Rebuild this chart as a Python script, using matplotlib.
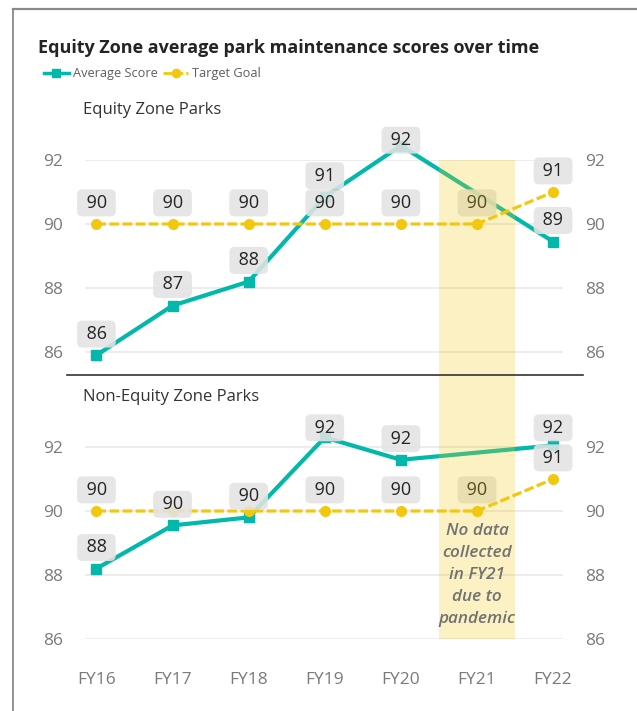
import matplotlib
matplotlib.use("Agg")
import matplotlib.pyplot as plt
from matplotlib.lines import Line2D
import numpy as np

plt.rcParams['font.family'] = ['Open Sans', 'DejaVu Sans']

# data
years = ['FY16', 'FY17', 'FY18', 'FY19', 'FY20', 'FY21', 'FY22']
equity_avg = [85.9, 87.45, 88.2, 90.85, 92.45, np.nan, 89.45]
equity_goal = [90, 90, 90, 90, 90, 90, 91]
non_equity_avg = [88.2, 89.55, 89.8, 92.3, 91.6, np.nan, 92.05]
non_equity_goal = [90, 90, 90, 90, 90, 90, 91]
panel_titles = ['Equity Zone Parks', 'Non-Equity Zone Parks']

TEAL = '#01B8AA'
YELLOW = '#F2C80F'
GRID = '#E9E9E9'
TICK = '#7A7A7A'

W, H = 637, 711
fig = plt.figure(figsize=(W / 100, H / 100), dpi=100)

def fx(px):
    return px / W

def fy(py):
    return 1 - py / H

# axes placement (pixel based)
ax_top = fig.add_axes([fx(85), fy(375), fx(563 - 85), (375 - 160) / H])
ax_bot = fig.add_axes([fx(85), fy(639), fx(563 - 85), (639 - 375) / H])

x = np.arange(len(years))


def draw_panel(ax, avg, goal, ylim, label_cap):
    ax.set_xlim(-0.15, 6.13)
    ax.set_ylim(*ylim)
    for s in ax.spines.values():
        s.set_visible(False)
    ax.set_yticks([86, 88, 90, 92])
    ax.grid(axis='y', color=GRID, linewidth=1.2)
    ax.set_axisbelow(True)
    ax.tick_params(axis='y', length=0, labelsize=12.5, labelcolor=TICK,
                   left=True, right=True, labelleft=True, labelright=True, pad=16)
    ax.tick_params(axis='x', length=0)

    avg = np.array(avg, dtype=float)
    ok = ~np.isnan(avg)
    # line across the gap
    ax.plot(x[ok], avg[ok], color=TEAL, lw=3, zorder=3, clip_on=False)
    ax.plot(x[ok], avg[ok], 's', color=TEAL, ms=7, zorder=3, clip_on=False)
    ax.plot(x, goal, color=YELLOW, lw=2.3, ls=(0, (3, 1.1)), marker='o', ms=7,
            zorder=3, clip_on=False)

    # FY21 band
    ax.axvspan(4.5, 5.5, color=YELLOW, alpha=0.25, lw=0, zorder=5)

    box = dict(boxstyle='round,pad=0.25,rounding_size=0.3', fc='#E3E3E3',
               ec='none', alpha=0.88)
    avg_lab = {}
    for i, v in enumerate(avg):
        if np.isnan(v):
            continue
        ly = min(v + 0.66, label_cap)
        avg_lab[i] = ly
        ax.text(i, ly, f' {v:.0f} ', ha='center', va='center', fontsize=13,
                color='#252423', bbox=box, zorder=4, clip_on=False)
    for i, v in enumerate(goal):
        ly = min(v + 0.66, label_cap)
        if i in avg_lab and abs(avg_lab[i] - ly) < 0.6:
            continue
        ax.text(i, ly, f' {v:.0f} ', ha='center', va='center', fontsize=13,
                color='#252423', bbox=box, zorder=4, clip_on=False)


draw_panel(ax_top, equity_avg, equity_goal, (92 - (375 - 160) / 32, 92), 92.62)
draw_panel(ax_bot, non_equity_avg, non_equity_goal, (86, 92 + (447 - 375) / 32), 92.6)

ax_top.set_xticks([])
ax_bot.set_xticks(x)
ax_bot.set_xticklabels(years)
ax_bot.tick_params(axis='x', labelsize=12.5, labelcolor=TICK, pad=24)

ax_bot.text(5, 88.0, 'No data\ncollected\nin FY21\ndue to\npandemic', ha='center',
            va='center', fontsize=12.3, style='italic', weight='semibold',
            color='#727272', linespacing=1.5, zorder=6)

# titles
fig.text(fx(38), fy(48), 'Equity Zone average park maintenance scores over time',
         fontsize=13.0, weight='bold', color='#252423', va='center', ha='left')
for t, py in zip(panel_titles, [110, 397]):
    fig.text(fx(83), fy(py), t, fontsize=12, color='#333333', va='center', ha='left')

handles = [Line2D([], [], color=TEAL, lw=2.5, marker='s', ms=6),
           Line2D([], [], color=YELLOW, lw=2, ls=(0, (3, 1.1)), marker='o', ms=6)]
fig.legend(handles, ['Average Score', 'Target Goal'], loc='center left',
           bbox_to_anchor=(fx(32), fy(74)), ncol=2, frameon=False, fontsize=9.2,
           labelcolor='#605E5C', handlelength=2.0, handletextpad=0.3,
           columnspacing=0.4)

# separator and frame
fig.add_artist(Line2D([fx(67), fx(583)], [fy(375), fy(375)], color='#333333', lw=1.2))
fig.add_artist(Line2D([fx(12.5), fx(12.5)], [fy(8.5), 0], color='#8A8A8A', lw=1.3))
fig.add_artist(Line2D([fx(12.5), 1], [fy(8.5), fy(8.5)], color='#8A8A8A', lw=1.6))

fig.savefig('out.png', dpi=100, facecolor='white')
